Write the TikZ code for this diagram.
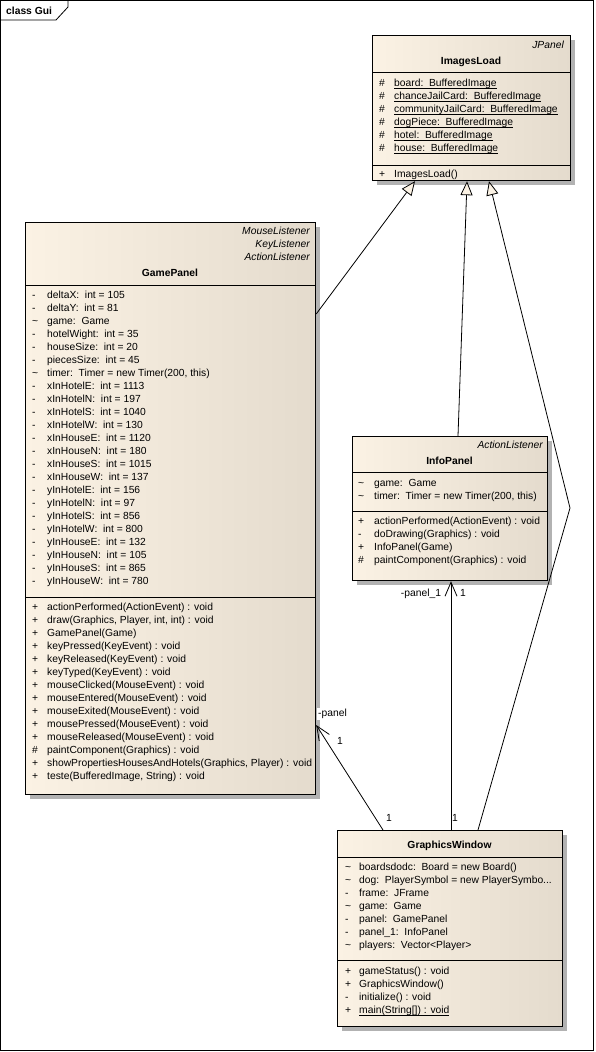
\documentclass[tikz,border=0pt]{standalone}
\usepackage{fontspec}
\setmainfont{Liberation Sans}
\usetikzlibrary{arrows.meta,shadows}
\definecolor{classleft}{RGB}{251,242,228}
\definecolor{classright}{RGB}{228,219,205}
\newcommand{\umlfont}{\fontsize{10.3}{13}\selectfont}
\newcommand{\umlstatic}[1]{\underline{\smash{#1}}}
\begin{document}
\begin{tikzpicture}[x=1pt,y=-1pt]
    \tikzset{umlclass/.style = {draw,line width=1.2pt,anchor=north west,inner sep=0pt,left color=classleft,right color=classright,drop shadow={opacity=1,fill=black!30,shadow xshift=4pt,shadow yshift=-4pt}}}
    \tikzset{members/.style = {anchor=north west,inner sep=0pt,font=\umlfont}}
    \tikzset{stereo/.style = {inner sep=0pt,font=\umlfont\itshape}}
    \tikzset{title/.style = {anchor=base,inner sep=0pt,font=\umlfont\bfseries}}
    \tikzset{endlabel/.style = {anchor=base,inner sep=0pt,font=\umlfont}}
    \tikzset{gen/.style = {line width=0.8pt,-{Triangle[length=14pt,width=12pt,fill=classleft]}}}
    \tikzset{assoc/.style = {line width=0.8pt,-{Straight Barb[length=14pt,width=12pt]}}}
    % frame
    \fill[white] (0,0) rectangle (595,1052);
    \draw[line width=0.8pt] (0.5,0.5) rectangle (593.5,1050.5);
    \draw[line width=0.8pt] (0.5,20) -- (56,20) -- (68,7) -- (68,0.5);
    \node[anchor=base west,inner sep=0pt,font=\umlfont\bfseries] (frame) at (6,14.7) {class Gui};
    % classes
    \node[umlclass,minimum width=198pt,minimum height=145pt] (il) at (372,35) {};
    \node[umlclass,minimum width=290pt,minimum height=572pt] (gp) at (25,222) {};
    \node[umlclass,minimum width=195pt,minimum height=144pt] (ip) at (352,436) {};
    \node[umlclass,minimum width=225pt,minimum height=196pt] (gw) at (337,830) {};
    % ImagesLoad
    \node[stereo,anchor=base east] (ilstereo) at (564,48.7) {JPanel};
    \node[title] (iltitle) at (471,64.7) {ImagesLoad};
    \draw[line width=1pt] (il.west |- 0,72) -- (il.east |- 0,72);
    \node[members] (ilattr) at (379,77.6) {\begin{tabular}{@{}p{15pt}@{}l@{}}
        \# & \umlstatic{board:\ \ BufferedImage}\\
        \# & \umlstatic{chanceJailCard:\ \ BufferedImage}\\
        \# & \umlstatic{communityJailCard:\ \ BufferedImage}\\
        \# & \umlstatic{dogPiece:\ \ BufferedImage}\\
        \# & \umlstatic{hotel:\ \ BufferedImage}\\
        \# & \umlstatic{house:\ \ BufferedImage}
    \end{tabular}};
    \draw[line width=1pt] (il.west |- 0,165) -- (il.east |- 0,165);
    \node[members] (ilops) at (379,168.6) {\begin{tabular}{@{}p{15pt}@{}l@{}}
        + & ImagesLoad()
    \end{tabular}};
    % GamePanel
    \node[stereo,anchor=north east] (gpstereo) at (310,225.6) {\begin{tabular}{@{}r@{}}
        MouseListener\\
        KeyListener\\
        ActionListener
    \end{tabular}};
    \node[title] (gptitle) at (170,276.7) {GamePanel};
    \draw[line width=1pt] (gp.west |- 0,285) -- (gp.east |- 0,285);
    \node[members] (gpattr) at (32,289.6) {\begin{tabular}{@{}p{15pt}@{}l@{}}
        - & deltaX:\ \ int = 105\\
        - & deltaY:\ \ int = 81\\
        \textasciitilde & game:\ \ Game\\
        - & hotelWight:\ \ int = 35\\
        - & houseSize:\ \ int = 20\\
        - & piecesSize:\ \ int = 45\\
        \textasciitilde & timer:\ \ Timer = new Timer(200, this)\\
        - & xInHotelE:\ \ int = 1113\\
        - & xInHotelN:\ \ int = 197\\
        - & xInHotelS:\ \ int = 1040\\
        - & xInHotelW:\ \ int = 130\\
        - & xInHouseE:\ \ int = 1120\\
        - & xInHouseN:\ \ int = 180\\
        - & xInHouseS:\ \ int = 1015\\
        - & xInHouseW:\ \ int = 137\\
        - & yInHotelE:\ \ int = 156\\
        - & yInHotelN:\ \ int = 97\\
        - & yInHotelS:\ \ int = 856\\
        - & yInHotelW:\ \ int = 800\\
        - & yInHouseE:\ \ int = 132\\
        - & yInHouseN:\ \ int = 105\\
        - & yInHouseS:\ \ int = 865\\
        - & yInHouseW:\ \ int = 780
    \end{tabular}};
    \draw[line width=1pt] (gp.west |- 0,597) -- (gp.east |- 0,597);
    \node[members] (gpops) at (32,601.3) {\begin{tabular}{@{}p{15pt}@{}l@{}}
        + & actionPerformed(ActionEvent) : void\\
        + & draw(Graphics, Player, int, int) : void\\
        + & GamePanel(Game)\\
        + & keyPressed(KeyEvent) : void\\
        + & keyReleased(KeyEvent) : void\\
        + & keyTyped(KeyEvent) : void\\
        + & mouseClicked(MouseEvent) : void\\
        + & mouseEntered(MouseEvent) : void\\
        + & mouseExited(MouseEvent) : void\\
        + & mousePressed(MouseEvent) : void\\
        + & mouseReleased(MouseEvent) : void\\
        \# & paintComponent(Graphics) : void\\
        + & showPropertiesHousesAndHotels(Graphics, Player) : void\\
        + & teste(BufferedImage, String) : void
    \end{tabular}};
    % InfoPanel
    \node[stereo,anchor=base east] (ipstereo) at (543,448.7) {ActionListener};
    \node[title] (iptitle) at (449.5,464.7) {InfoPanel};
    \draw[line width=1pt] (ip.west |- 0,472) -- (ip.east |- 0,472);
    \node[members] (ipattr) at (358,477.3) {\begin{tabular}{@{}p{16pt}@{}l@{}}
        \textasciitilde & game:\ \ Game\\
        \textasciitilde & timer:\ \ Timer = new Timer(200, this)
    \end{tabular}};
    \draw[line width=1pt] (ip.west |- 0,511) -- (ip.east |- 0,511);
    \node[members] (ipops) at (358,515.6) {\begin{tabular}{@{}p{16pt}@{}l@{}}
        + & actionPerformed(ActionEvent) : void\\
        - & doDrawing(Graphics) : void\\
        + & InfoPanel(Game)\\
        \# & paintComponent(Graphics) : void
    \end{tabular}};
    % GraphicsWindow
    \node[title] (gwtitle) at (449.5,848) {GraphicsWindow};
    \draw[line width=1pt] (gw.west |- 0,857) -- (gw.east |- 0,857);
    \node[members] (gwattr) at (345,861.3) {\begin{tabular}{@{}p{14pt}@{}l@{}}
        \textasciitilde & boardsdodc:\ \ Board = new Board()\\
        \textasciitilde & dog:\ \ PlayerSymbol = new PlayerSymbo...\\
        - & frame:\ \ JFrame\\
        \textasciitilde & game:\ \ Game\\
        - & panel:\ \ GamePanel\\
        - & panel\_1:\ \ InfoPanel\\
        \textasciitilde & players:\ \ Vector<Player>
    \end{tabular}};
    \draw[line width=1pt] (gw.west |- 0,960) -- (gw.east |- 0,960);
    \node[members] (gwops) at (345,965.3) {\begin{tabular}{@{}p{14pt}@{}l@{}}
        + & gameStatus() : void\\
        + & GraphicsWindow()\\
        - & initialize() : void\\
        + & \umlstatic{main(String[]) : void}
    \end{tabular}};
    % generalizations
    \draw[gen] (gp.east |- 0,314) -- (415,0 |- il.south);
    \draw[gen] (458,0 |- ip.north) -- (467,0 |- il.south);
    \draw[gen] (478,0 |- gw.north) -- (570,508) -- (489,0 |- il.south);
    % associations
    \draw[assoc] (383,0 |- gw.north) -- (gp.east |- 0,725);
    \draw[assoc] (451,0 |- gw.north) -- (451,0 |- ip.south);
    \node[endlabel,anchor=base west,fill=white,inner sep=1pt] (gprole) at (317,716.7) {-panel};
    \node[endlabel] (gpmult) at (340,744.7) {1};
    \node[endlabel] (gwmultA) at (389,821.7) {1};
    \node[endlabel] (iprole) at (421,596.7) {-panel\_1};
    \node[endlabel] (ipmult) at (463,596.7) {1};
    \node[endlabel] (gwmultB) at (455,821.7) {1};
\end{tikzpicture}
\end{document}
